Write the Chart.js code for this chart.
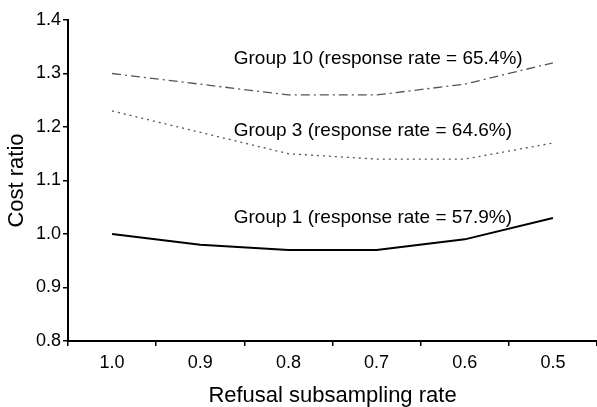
<!DOCTYPE html>
<html>
<head>
<meta charset="utf-8">
<script src="https://cdn.jsdelivr.net/npm/chart.js@4"></script>
<style>
	html, body { margin: 0; padding: 0; background: #fff; }
	#wrap { width: 597px; height: 407px; }
</style>
</head>
<body>
<div id="wrap"><canvas id="cost-chart"></canvas></div>
<script>
const rates = ["1.0", "0.9", "0.8", "0.7", "0.6", "0.5"];
const group10 = [1.30, 1.28, 1.26, 1.26, 1.28, 1.32];
const group3 = [1.23, 1.19, 1.15, 1.14, 1.14, 1.17];
const group1 = [1.00, 0.98, 0.97, 0.97, 0.99, 1.03];
const yTicks = [0.8, 0.9, 1.0, 1.1, 1.2, 1.3, 1.4];

// annotation text and where it sits (category index, value)
const noteTexts = ["Group 10 (response rate = 65.4%)", "Group 3 (response rate = 64.6%)", "Group 1 (response rate = 57.9%)"];
const noteX = [1.38, 1.38, 1.38];
const noteY = [1.328, 1.193, 1.031];

const fontFamily = "'Liberation Sans', Arial, sans-serif";

const notesPlugin = {
	id: "notes",
	afterDatasetsDraw(chart)
	{
		const ctx = chart.ctx;
		const xs = chart.scales.x;
		const ys = chart.scales.y;
		ctx.save();
		ctx.fillStyle = "#000";
		ctx.font = "19px " + fontFamily;
		ctx.textAlign = "left";
		ctx.textBaseline = "middle";
		noteTexts.forEach(function (t, i)
		{
			ctx.fillText(t, xs.getPixelForValue(noteX[i]), ys.getPixelForValue(noteY[i]));
		});
		ctx.restore();
	}
};

const chart = new Chart(document.getElementById("cost-chart"), {
	type: "line",
	data: {
		labels: rates,
		datasets: [{
			label: "Group 10", data: group10,
			borderColor: "#555", borderWidth: 1.3, borderDash: [9, 4, 2, 4]
		}, {
			label: "Group 3", data: group3,
			borderColor: "#555", borderWidth: 1.3, borderDash: [2, 4]
		}, {
			label: "Group 1", data: group1,
			borderColor: "#000", borderWidth: 2
		}]
	},
	plugins: [notesPlugin],
	options: {
		responsive: true,
		maintainAspectRatio: false,
		animation: false,
		layout: {padding: {top: 20, right: 0, left: 0, bottom: 0}},
		elements: {point: {radius: 0}, line: {tension: 0, fill: false}},
		plugins: {legend: {display: false}, tooltip: {enabled: false}},
		scales: {
			x: {
				type: "category",
				offset: true,
				grid: {display: true, offset: true, drawOnChartArea: false, drawTicks: true, tickLength: 5, color: "#000", lineWidth: 1.5},
				border: {display: true, color: "#000", width: 2},
				ticks: {color: "#000", font: {family: fontFamily, size: 18}, padding: 6, maxRotation: 0},
				title: {display: true, text: "Refusal subsampling rate", color: "#000", font: {family: fontFamily, size: 22, lineHeight: 1.0}, padding: 0},
				afterFit: function (s) { s.height = 66; }
			},
			y: {
				min: 0.8, max: 1.4,
				afterBuildTicks: function (s) { s.ticks = yTicks.map(function (v) { return {value: v}; }); },
				grid: {display: true, drawOnChartArea: false, drawTicks: true, tickLength: 5, color: "#000", lineWidth: 1.5},
				border: {display: true, color: "#000", width: 2},
				ticks: {color: "#000", font: {family: fontFamily, size: 18}, padding: 2,
					callback: function (v) { return v.toFixed(1); }},
				title: {display: true, text: "Cost ratio", color: "#000", font: {family: fontFamily, size: 22, lineHeight: 1.0}, padding: {top: 6, bottom: 0}},
				afterFit: function (s) { s.width = 68; }
			}
		}
	}
});
</script>
</body>
</html>
